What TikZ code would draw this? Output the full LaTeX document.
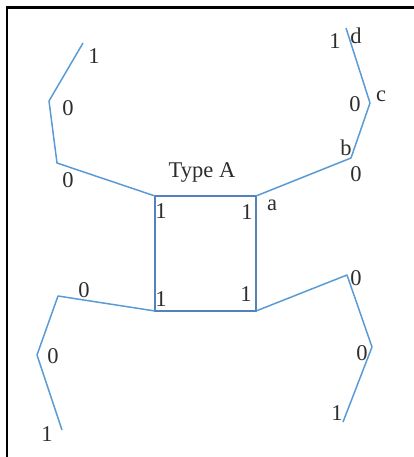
\documentclass[tikz,border=0pt]{standalone}
\usepackage{fontspec}
\setmainfont{Liberation Serif}
\usetikzlibrary{positioning}
\definecolor{boxblue}{RGB}{84,130,188}
\definecolor{armblue}{RGB}{91,155,213}
\definecolor{labelgray}{RGB}{45,45,45}

\begin{document}
\begin{tikzpicture}[
    x=1pt, y=-1pt,
    lbl/.style={inner sep=0pt, font=\fontsize{22.5}{26}\selectfont, text=labelgray},
    arm/.style={armblue, line width=1.5pt, line join=round},
    box/.style={boxblue, line width=2.2pt}
]
\useasboundingbox (0,0) rectangle (413,457);

% frame (cut off at right and bottom)
\draw[black, line width=2.2pt] (7,470) -- (7,7.5) -- (430,7.5);

% Type A square
\coordinate (tl) at (155,196);
\coordinate (tr) at (256,196);
\coordinate (bl) at (155,311);
\coordinate (br) at (256,311);
\draw[box] (tl) -- (tr) -- (br) -- (bl) -- cycle;

% upper left arm
\coordinate (ul1) at (57,163);
\coordinate (ul2) at (49,101);
\coordinate (ul3) at (83,43);
\draw[arm] (tl) -- (ul1) -- (ul2) -- (ul3);

% upper right arm
\coordinate (ur1) at (351,158);
\coordinate (ur2) at (370,103);
\coordinate (ur3) at (346,28);
\draw[arm] (tr) -- (ur1) -- (ur2) -- (ur3);

% lower left arm
\coordinate (ll1) at (58,296);
\coordinate (ll2) at (37,355);
\coordinate (ll3) at (62,430);
\draw[arm] (bl) -- (ll1) -- (ll2) -- (ll3);

% lower right arm
\coordinate (lr1) at (347,275);
\coordinate (lr2) at (372,347);
\coordinate (lr3) at (343,422);
\draw[arm] (br) -- (lr1) -- (lr2) -- (lr3);

% labels
\node[lbl] (title) at (202,173) {Type A};
\node[lbl] (sq1) at (161,211) {1};
\node[lbl] (sq2) at (247,212) {1};
\node[lbl] (sq3) at (161,299) {1};
\node[lbl] (sq4) at (246,294) {1};
\node[lbl] (a) at (272,205) {a};

\node[lbl] (ul0a) at (68,180) {0};
\node[lbl] (ul0b) at (68,108) {0};
\node[lbl] (ul1l) at (94,56) {1};

\node[lbl] (ur0a) at (356,174) {0};
\node[lbl] (b) at (346,148) {b};
\node[lbl] (ur0b) at (355,104) {0};
\node[lbl] (c) at (381,96) {c};
\node[lbl] (ur1l) at (335,41) {1};
\node[lbl] (d) at (356,36) {d};

\node[lbl] (ll0a) at (84,290) {0};
\node[lbl] (ll0b) at (53,356) {0};
\node[lbl] (ll1l) at (47,434) {1};

\node[lbl] (lr0a) at (356,278) {0};
\node[lbl] (lr0b) at (362,353) {0};
\node[lbl] (lr1l) at (337,413) {1};

\end{tikzpicture}
\end{document}
